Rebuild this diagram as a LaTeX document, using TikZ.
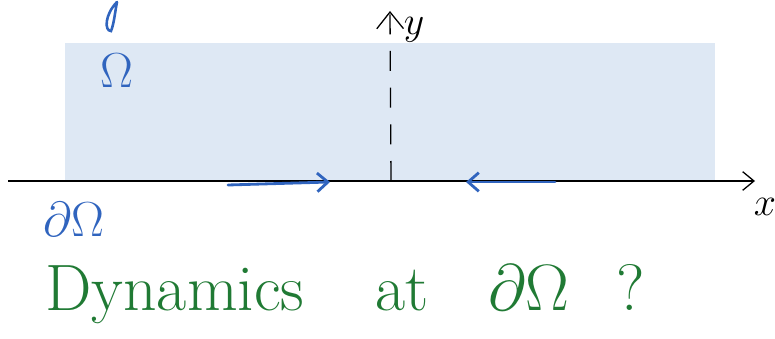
\RequirePackage{fix-cm}
\documentclass[tikz,border=0pt]{standalone}
\usetikzlibrary{arrows.meta}
\definecolor{inkblue}{RGB}{48,100,190}
\definecolor{inkgreen}{RGB}{32,122,52}
\definecolor{domainfill}{RGB}{222,232,244}
\tikzset{
  axisline/.style={line width=1.1pt,black},
  inkarrow/.style={line width=2.4pt,inkblue,line cap=round,-{Straight Barb[length=3.2mm,width=5.6mm,line width=2.4pt]}},
  bigsym/.style={inkblue,inner sep=0pt,font=\fontsize{42}{46}\selectfont},
  note/.style={inkgreen,inner sep=0pt,anchor=base west,font=\fontsize{56}{60}\selectfont},
}
\begin{document}
\begin{tikzpicture}[x=0.03cm,y=-0.03cm]
      \useasboundingbox (0,0) rectangle (775,339);
      % the domain
      \fill[domainfill] (65,43) rectangle (715,180);
      \node[bigsym] (omega) at (117,71) {$\Omega$};
      \node[bigsym] (bdry) at (74,219) {$\partial\Omega$};
      % stray stroke at the top
      \draw[inkblue,line width=2.2pt,line cap=round] (117,2) .. controls (105,14) and (104,31) .. (111,31) .. controls (114,24) and (115,12) .. (117,2);
      % axes
      \coordinate (xstart) at (8,181);
      \coordinate (xend) at (755,181);
      \coordinate (ystart) at (391,181);
      \coordinate (yend) at (390,11);
      \draw[axisline,-{Straight Barb[length=3.4mm,width=5.6mm,line width=1.1pt]}] (xstart) -- (xend);
      \draw[axisline,dash pattern=on 0.6cm off 0.5cm,-{Straight Barb[length=5mm,width=8mm,line width=1.1pt]}] (ystart) -- (yend);
      \node[font=\fontsize{34}{38}\selectfont,inner sep=0pt] (xlab) at (765,207) {$x$};
      \node[font=\fontsize{34}{38}\selectfont,inner sep=0pt] (ylab) at (414,30) {$y$};
      % flow towards the origin
      \coordinate (leftfrom) at (228,185);
      \coordinate (leftto) at (330,182);
      \coordinate (rightfrom) at (555,182);
      \coordinate (rightto) at (466,182);
      \draw[inkarrow] (leftfrom) -- (leftto);
      \draw[inkarrow] (rightfrom) -- (rightto);
      % question
      \node[note] (dyn) at (45,310) {Dynamics};
      \node[note] (at) at (375,310) {at};
      \node[note] (bd) at (488,310) {$\partial\Omega$};
      \node[note] (qm) at (616,310) {?};
\end{tikzpicture}
\end{document}
